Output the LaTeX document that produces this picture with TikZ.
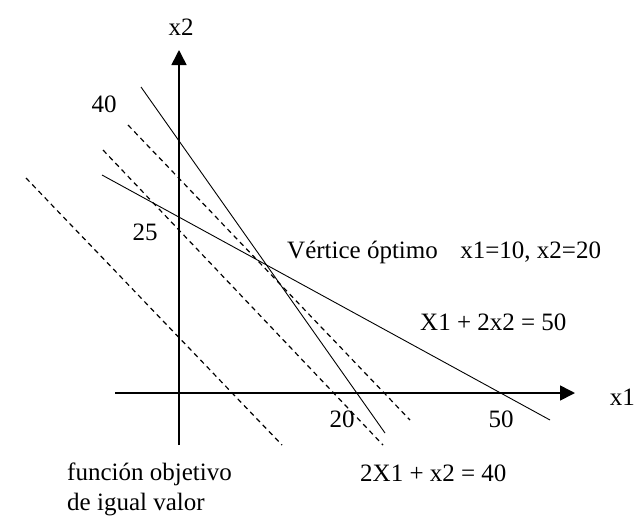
\documentclass[tikz,border=0pt]{standalone}
\usepackage{fontspec}
\setmainfont{Liberation Serif}
\usetikzlibrary{arrows.meta}
\begin{document}
\begin{tikzpicture}[x=1pt,y=-1pt,
  axis/.style={line width=1.6pt,-{Triangle[length=15pt,width=15pt]}},
  solidline/.style={line width=0.9pt},
  dashline/.style={line width=1.2pt,dash pattern=on 5pt off 4pt},
  lbl/.style={inner sep=0pt,font=\fontsize{25}{30}\selectfont}]
\useasboundingbox (0,0) rectangle (637,515);
% axes
\coordinate (yb) at (179,445);
\coordinate (yt) at (179,50);
\coordinate (xl) at (115,393);
\coordinate (xr) at (575,393);
\draw[axis] (yb) -- (yt);
\draw[axis] (xl) -- (xr);
% constraint lines
\coordinate (a1) at (141,87);
\coordinate (a2) at (385,433);
\coordinate (b1) at (102,175);
\coordinate (b2) at (550,420);
\draw[solidline] (a1) -- (a2);
\draw[solidline] (b1) -- (b2);
% objective lines
\coordinate (d11) at (128,125);
\coordinate (d12) at (410,420);
\coordinate (d21) at (103,150);
\coordinate (d22) at (383,445);
\coordinate (d31) at (26,178);
\coordinate (d32) at (282,445);
\draw[dashline] (d11) -- (d12);
\draw[dashline] (d21) -- (d22);
\draw[dashline] (d31) -- (d32);
% labels
\node[lbl,anchor=base] (lx2) at (181,35) {x2};
\node[lbl,anchor=base east] (lx1) at (635,405) {x1};
\node[lbl,anchor=base] (l40) at (104,112) {40};
\node[lbl,anchor=base] (l25) at (145,240) {25};
\node[lbl,anchor=base] (l20) at (342,427) {20};
\node[lbl,anchor=base] (l50) at (501,427) {50};
\node[lbl,anchor=base west] (lv) at (287,258) {Vértice óptimo\hspace{0.9em}x1=10, x2=20};
\node[lbl,anchor=base west] (lc1) at (420,330) {X1 + 2x2 = 50};
\node[lbl,anchor=base west] (lc2) at (360,481) {2X1 + x2 = 40};
\node[lbl,anchor=base west,align=left] (lf) at (67,510) {función objetivo\\de igual valor};
\end{tikzpicture}
\end{document}
